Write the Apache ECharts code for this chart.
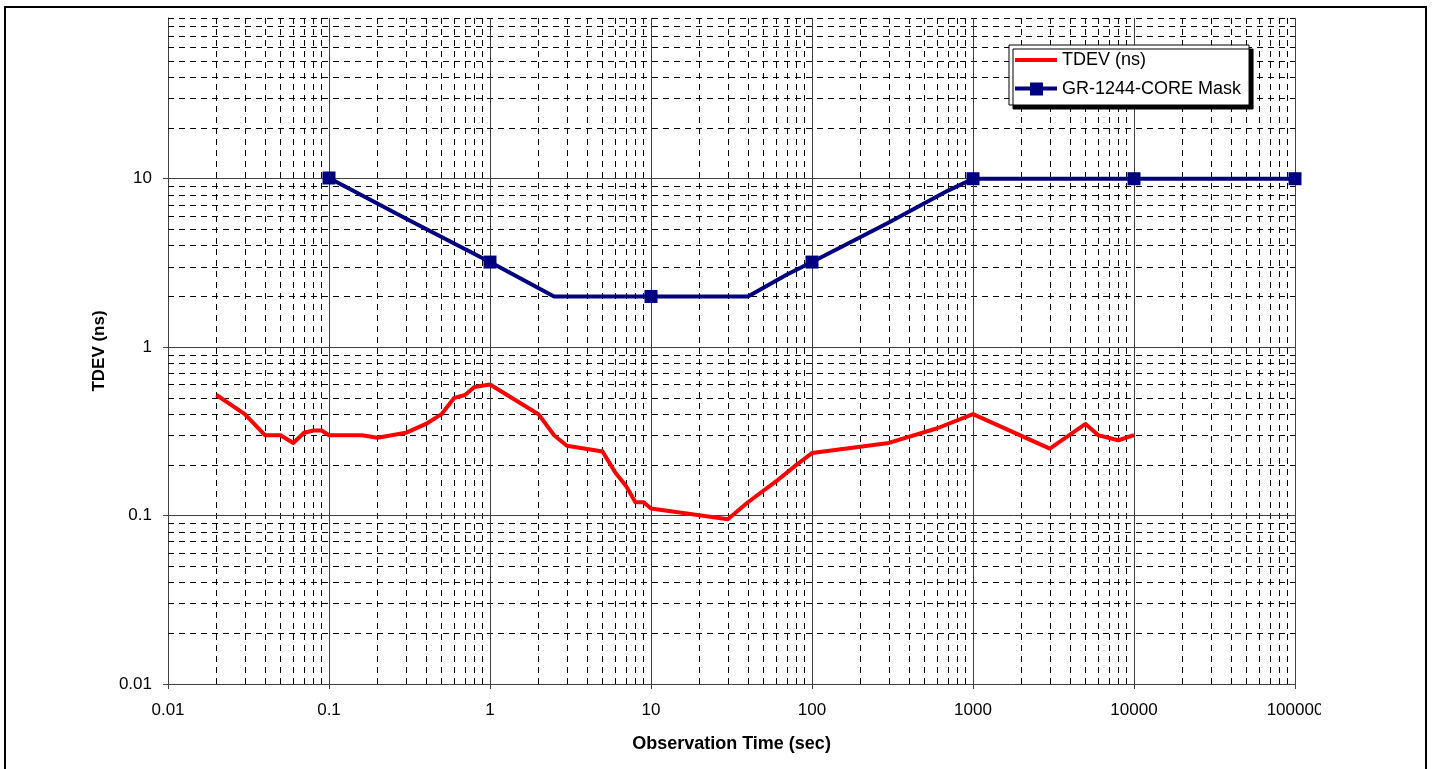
<!DOCTYPE html>
<html>
<head>
<meta charset="utf-8">
<script src="https://cdn.jsdelivr.net/npm/echarts@6/dist/echarts.min.js"></script>
<style>
html,body{margin:0;padding:0;background:#fff;}
#chart{width:1432px;height:769px;}
</style>
</head>
<body>
<div id="chart"></div>
<script>
// ---- data ----
const tdevTau = [0.02,0.03,0.04,0.05,0.06,0.07,0.08,0.09,0.1,0.16,0.2,0.3,0.4,0.5,0.6,0.7,0.8,1,2,2.5,3,5,6,7,8,9,10,30,40,60,80,100,300,600,1000,3000,5000,6000,8000,10000];
const tdevVal = [0.52,0.40,0.30,0.30,0.27,0.31,0.32,0.32,0.30,0.30,0.29,0.31,0.35,0.40,0.50,0.52,0.58,0.60,0.40,0.30,0.26,0.24,0.18,0.15,0.12,0.12,0.11,0.095,0.12,0.16,0.20,0.235,0.27,0.33,0.40,0.25,0.35,0.30,0.28,0.30];
const maskTau = [0.1,0.3,1,2.5,10,40,70,100,300,700,1000,10000,100000];
const maskVal = [10.1,5.8,3.2,2.0,2.0,2.0,2.7,3.2,5.5,8.5,10,10,10];
const xTickLabels = ['0.01','0.1','1','10','100','1000','10000','100000'];
const yTickLabels = ['0.01','0.1','1','10'];
const seriesNames = ['TDEV (ns)','GR-1244-CORE Mask'];
const xTitle = 'Observation Time (sec)';
const yTitle = 'TDEV (ns)';

const X_MIN = 0.01, X_MAX = 100000, Y_MIN = 0.01, Y_MAX = 90;
const FONT = 'Liberation Sans, Arial, sans-serif';

const xTickVals = xTickLabels.map(Number);
const yTickVals = yTickLabels.map(Number);
function isDecade(v){ const e = Math.log10(v); return Math.abs(e - Math.round(e)) < 1e-9; }
function labelFor(list, v){
  if (!isDecade(v)) return '';
  const e = Math.round(Math.log10(v));
  const i = list.findIndex(s => Math.round(Math.log10(Number(s))) === e);
  return i >= 0 ? list[i] : '';
}

// grid lines (axis positions)
const minorX = [], majorX = [], minorY = [], majorY = [];
for (let e = -2; e <= 4; e++) {
  for (let k = 2; k <= 9; k++) minorX.push({xAxis: +(k * Math.pow(10, e)).toPrecision(6)});
}
for (let e = -1; e <= 5; e++) majorX.push({xAxis: +Math.pow(10, e).toPrecision(6)});
for (let e = -2; e <= 1; e++) {
  for (let k = 2; k <= 9; k++) minorY.push({yAxis: +(k * Math.pow(10, e)).toPrecision(6)});
}
for (let e = -1; e <= 1; e++) majorY.push({yAxis: +Math.pow(10, e).toPrecision(6)});

const chart = echarts.init(document.getElementById('chart'), null, {renderer: 'canvas'});
chart.setOption({
  animation: false,
  backgroundColor: '#fff',
  grid: {left: 168, top: 18, right: 137, bottom: 85},
  legend: {
    orient: 'vertical',
    left: 1009, top: 45,
    z: 50,
    padding: [5, 8, 6, 6],
    itemGap: 9,
    itemWidth: 42, itemHeight: 14,
    symbolKeepAspect: true,
    backgroundColor: '#fff',
    borderColor: '#000', borderWidth: 1,
    shadowColor: '#000', shadowBlur: 0, shadowOffsetX: 4, shadowOffsetY: 4,
    textStyle: {fontFamily: FONT, fontSize: 18, color: '#000', lineHeight: 20},
    data: [
      {name: seriesNames[0], icon: 'path://M0,5H42V9H0Z', itemStyle: {color: '#ff0000'}},
      {name: seriesNames[1], icon: 'path://M0,5H42V9H0Z M15,1H28V14H15Z', itemStyle: {color: '#000080'}}
    ]
  },
  xAxis: {
    type: 'log', logBase: 10, min: X_MIN, max: X_MAX, interval: 1, splitNumber: 7,
    axisLine: {lineStyle: {color: '#404040', width: 1}},
    axisTick: {show: true, length: 5, lineStyle: {color: '#404040'}, customValues: xTickVals},
    axisLabel: {fontFamily: FONT, fontSize: 17, color: '#000', margin: 18,
      customValues: xTickVals,
      formatter: v => labelFor(xTickLabels, v)},
    splitLine: {show: false},
    name: xTitle, nameLocation: 'middle', nameGap: 51,
    nameTextStyle: {fontFamily: FONT, fontSize: 18, fontWeight: 'bold', color: '#000'}
  },
  yAxis: {
    type: 'log', logBase: 10, min: Y_MIN, max: Y_MAX, interval: 1,
    axisLine: {show: true, lineStyle: {color: '#404040', width: 1}},
    axisTick: {show: true, length: 5, lineStyle: {color: '#404040'}, customValues: yTickVals},
    axisLabel: {fontFamily: FONT, fontSize: 17, color: '#000', margin: 16,
      customValues: yTickVals,
      formatter: v => labelFor(yTickLabels, v)},
    splitLine: {show: false},
    name: yTitle, nameLocation: 'middle', nameGap: 53,
    nameTextStyle: {fontFamily: FONT, fontSize: 17, fontWeight: 'bold', color: '#000'}
  },
  series: [
    {
      type: 'line', name: '_grid', data: [], silent: true, z: 1,
      markLine: {
        silent: true, symbol: ['none','none'], animation: false,
        label: {show: false},
        lineStyle: {color: '#000', width: 1, type: [6, 5]},
        data: minorX.concat(minorY)
      }
    },
    {
      type: 'line', name: '_major', data: [], silent: true, z: 1,
      markLine: {
        silent: true, symbol: ['none','none'], animation: false,
        label: {show: false},
        lineStyle: {color: '#404040', width: 1, type: 'solid'},
        data: majorX.concat(majorY)
      }
    },
    {
      type: 'line', name: seriesNames[0], z: 5,
      data: tdevTau.map((t, i) => [t, tdevVal[i]]),
      symbol: 'none', showSymbol: false,
      lineStyle: {color: '#ff0000', width: 4, join: 'round'},
      itemStyle: {color: '#ff0000'}
    },
    {
      type: 'line', name: seriesNames[1], z: 6,
      data: maskTau.map((t, i) => ({value: [t, maskVal[i]], symbol: isDecade(t) ? 'rect' : 'none'})),
      symbol: 'rect', symbolSize: 13, showSymbol: true,
      lineStyle: {color: '#000080', width: 4, join: 'round'},
      itemStyle: {color: '#000080'}
    }
  ],
  graphic: [
    {type: 'rect', z: 100, silent: true,
     shape: {x: 1321, y: 695, width: 60, height: 30}, style: {fill: '#fff'}},
    {type: 'rect', z: 100, silent: true,
     shape: {x: 5, y: 7, width: 1421, height: 800}, style: {fill: 'none', stroke: '#000', lineWidth: 2}}
  ]
});
</script>
</body>
</html>
